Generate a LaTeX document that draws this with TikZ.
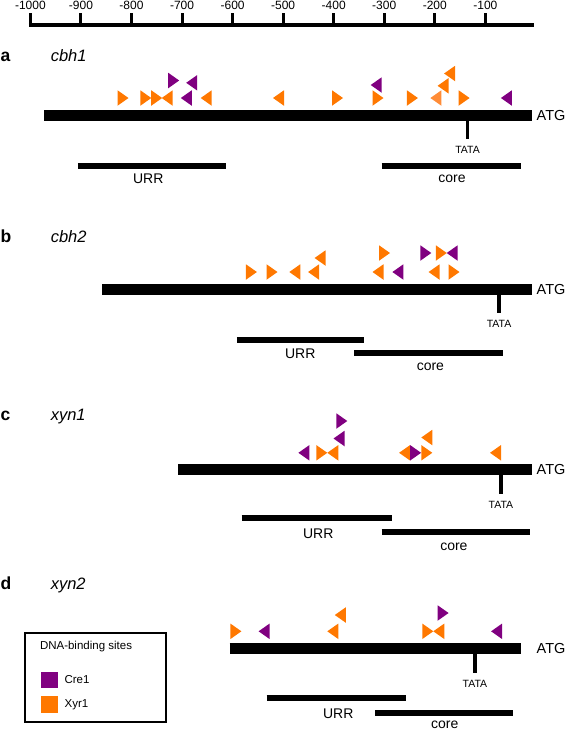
\documentclass[tikz,border=0pt]{standalone}
\usepackage{fontspec}
\setmainfont{Liberation Sans}
\usetikzlibrary{positioning}

\definecolor{cre}{RGB}{128,0,128}
\definecolor{xyr}{RGB}{255,120,0}
\definecolor{xyrlight}{RGB}{255,140,55}

% binding site pointing right, left edge at x=#2, centre height #3
\newcommand{\siteR}[3]{%
  \fill[#1] (#2,#3) ++(0,-7.75) -- ++(11,7.75) -- ++(-11,7.75) -- cycle;
}
% binding site pointing left, apex at x=#2
\newcommand{\siteL}[3]{%
  \fill[#1] (#2,#3) ++(11,-7.75) -- ++(-11,7.75) -- ++(11,7.75) -- cycle;
}
% promoter bar with ATG and TATA box
\newcommand{\genebar}[4]{%
  \draw[genebar] (#2,0) -- (#3,0);
  \node[atg] (atg-#1) at (536.5,0) {ATG};
  \draw[tata] (#4,5) -- (#4,24);
  \node[tatalabel] (tata-#1) at (#4,35) {TATA};
}

\begin{document}
\begin{tikzpicture}[
  x=1pt, y=-1pt,
  axisline/.style={line width=4.7pt},
  tickmark/.style={line width=3pt},
  ticklabel/.style={inner sep=0pt, font={\fontsize{12}{14}\selectfont}},
  genebar/.style={line width=10.7pt},
  regionbar/.style={line width=5.7pt},
  tata/.style={line width=3.2pt},
  tatalabel/.style={inner sep=0pt, font={\fontsize{10.5}{12}\selectfont}},
  atg/.style={anchor=west, inner sep=0pt, font={\fontsize{14.5}{16}\selectfont}},
  regionlabel/.style={inner sep=0pt, font={\fontsize{14}{16}\selectfont}},
  panel/.style={anchor=base west, inner sep=0pt, font={\fontsize{17.5}{20}\selectfont\bfseries}},
  gene/.style={anchor=base west, inner sep=0pt, font={\fontsize{16.5}{19}\selectfont\itshape}},
  legendbox/.style={draw, line width=2pt},
  legendtext/.style={anchor=west, inner sep=0pt, font={\fontsize{11.5}{13}\selectfont}}
  ]
  \useasboundingbox (0,0) rectangle (567,732);

  %% position scale
  \draw[axisline] (28.9,25) -- (534.2,25);
  \foreach \k in {0,...,9}{
    \pgfmathsetmacro{\xt}{30.4+50.55*\k}
    \pgfmathtruncatemacro{\lab}{-1000+100*\k}
    \draw[tickmark] (\xt,13.3) -- (\xt,25);
    \node[ticklabel] (lab\k) at (\xt,5.5) {\lab};
  }

  %% a: cbh1
  \begin{scope}[shift={(0,115.3)}]
    \node[panel] (pa) at (0.5,-54.3) {a};
    \node[gene] (ga) at (50.6,-54.3) {cbh1};
    \genebar{a}{44.1}{532}{467.6}
    \draw[regionbar] (77.8,50.7) -- (226,50.7);
    \node[regionlabel] (urr-a) at (148.3,63) {URR};
    \draw[regionbar] (381.6,50.7) -- (520.8,50.7);
    \node[regionlabel] (core-a) at (452,63.5) {core};
    % sites
    \foreach \x in {117.5, 140.3, 151.2, 332, 372.5, 406.9, 458.6}{
      \siteR{xyr}{\x}{-17.3}
    }
    \foreach \x in {161.7, 200.7, 273}{
      \siteL{xyr}{\x}{-17.3}
    }
    \siteL{xyrlight}{430.4}{-17.3}
    \siteL{xyr}{437.6}{-29.5}
    \siteL{xyr}{444.1}{-41.8}
    \siteR{cre}{168.2}{-34.8}
    \siteL{cre}{186.2}{-32.5}
    \siteL{cre}{180.8}{-17.3}
    \siteL{cre}{370.7}{-30.3}
    \siteL{cre}{500.9}{-17.3}
  \end{scope}

  %% b: cbh2
  \begin{scope}[shift={(0,289.2)}]
    \node[panel] (pb) at (0.5,-46.7) {b};
    \node[gene] (gb) at (50.6,-46.7) {cbh2};
    \genebar{b}{102.4}{532}{499}
    \draw[regionbar] (236.9,50.8) -- (363.5,50.8);
    \node[regionlabel] (urr-b) at (300.2,64.8) {URR};
    \draw[regionbar] (354.4,64.1) -- (502.7,64.1);
    \node[regionlabel] (core-b) at (430.4,77.8) {core};
    % sites
    \foreach \x in {245.9, 266.5, 448.5}{
      \siteR{xyr}{\x}{-17.2}
    }
    \foreach \x in {289.3, 308.1, 372.5, 428.6}{
      \siteL{xyr}{\x}{-17.2}
    }
    \siteL{xyr}{314.6}{-31.2}
    \siteR{xyr}{379}{-36.2}
    \siteR{xyr}{435.8}{-36.2}
    \siteL{cre}{392.4}{-17.2}
    \siteR{cre}{420.3}{-36.2}
    \siteL{cre}{446.7}{-36.2}
  \end{scope}

  %% c: xyn1
  \begin{scope}[shift={(0,469.5)}]
    \node[panel] (pc) at (0.5,-48.8) {c};
    \node[gene] (gc) at (50.6,-48.8) {xyn1};
    \genebar{c}{178.3}{532}{500.9}
    \draw[regionbar] (241.6,48.2) -- (392.4,48.2);
    \node[regionlabel] (urr-c) at (318.3,63.8) {URR};
    \draw[regionbar] (381.5,62.8) -- (529.8,62.8);
    \node[regionlabel] (core-c) at (453.9,77.2) {core};
    % sites
    \siteL{cre}{298.4}{-16.7}
    \siteR{xyr}{316.3}{-16.7}
    \siteL{xyr}{327.3}{-16.7}
    \siteL{cre}{333.5}{-31}
    \siteR{cre}{336.3}{-48.5}
    \siteL{xyr}{399.1}{-16.7}
    \siteR{cre}{410.1}{-16.7}
    \siteR{xyr}{421.3}{-16.7}
    \siteL{xyr}{421.3}{-32}
    \siteL{xyr}{490}{-16.7}
  \end{scope}

  %% d: xyn2
  \begin{scope}[shift={(0,648.5)}]
    \node[panel] (pd) at (0.5,-59.2) {d};
    \node[gene] (gd) at (50.6,-59.2) {xyn2};
    \genebar{d}{229.7}{520.8}{474.9}
    \draw[regionbar] (266.5,49.8) -- (405.8,49.8);
    \node[regionlabel] (urr-d) at (338.2,65.5) {URR};
    \draw[regionbar] (375.4,64.8) -- (512.8,64.8);
    \node[regionlabel] (core-d) at (444.8,76.5) {core};
    % sites
    \siteR{xyr}{230.4}{-17.2}
    \siteL{cre}{258.6}{-17.2}
    \siteL{xyr}{327.3}{-17.2}
    \siteL{xyr}{334.8}{-33.5}
    \siteR{xyr}{422.3}{-17.2}
    \siteL{xyr}{433.3}{-17.2}
    \siteR{cre}{437.6}{-35.5}
    \siteL{cre}{491.1}{-17.2}
  \end{scope}

  %% legend
  \draw[legendbox] (25.3,632.7) rectangle (165.6,721.7);
  \node[legendtext] (ltitle) at (39.8,647) {DNA-binding sites};
  \fill[cre] (40.5,671.7) rectangle (57.9,688.3);
  \node[legendtext] (lcre) at (64.4,680) {Cre1};
  \fill[xyr] (40.5,696) rectangle (57.9,713.3);
  \node[legendtext] (lxyr) at (64.4,704.3) {Xyr1};

\end{tikzpicture}
\end{document}
